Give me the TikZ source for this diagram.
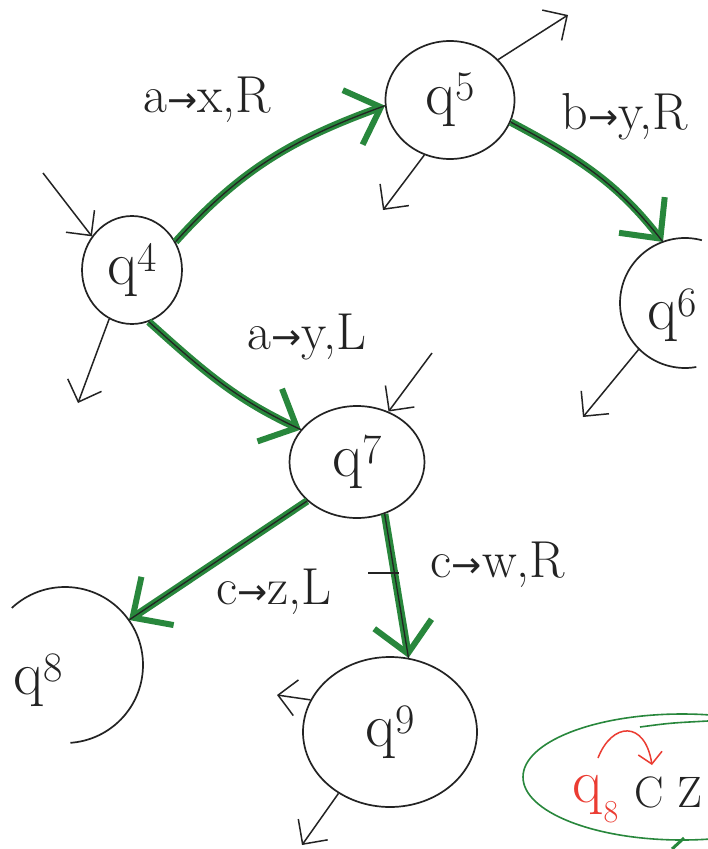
\documentclass[tikz,border=0pt]{standalone}
\usepackage{fontspec}
\newfontfamily\arrowfont{DejaVu Sans}
\usetikzlibrary{arrows.meta,shapes.geometric}
\definecolor{pen}{RGB}{35,35,35}
\definecolor{hl}{RGB}{40,135,60}
\definecolor{redpen}{RGB}{235,60,50}
\newcommand{\stname}[1]{q\raisebox{0.22em}{\fontsize{42}{44}\selectfont #1}}
\newcommand{\tr}{{\arrowfont\fontsize{36}{36}\selectfont →}}
\begin{document}
\begin{tikzpicture}[x=1pt,y=-1pt,
 state/.style={ellipse,draw=pen,line width=1.7pt,inner sep=0pt,text=pen,font=\fontsize{62}{64}\selectfont},
 stlab/.style={inner sep=0pt,text=pen,font=\fontsize{62}{64}\selectfont},
 lab/.style={font=\fontsize{52}{56}\selectfont,text=pen,inner sep=0pt},
 gedge/.style={draw=hl,line width=7.5pt,-{Straight Barb[length=30pt,width=58pt,line width=6pt]},postaction={draw=pen,line width=1.3pt,-}},
 tarrow/.style={draw=pen,line width=1.5pt,-{Straight Barb[length=18pt,width=36pt,line width=1.5pt]}},
 outline/.style={draw=pen,line width=1.7pt},
]
\path[use as bounding box, fill=white] (0,0) rectangle (708,849);

% states
\node[state,minimum width=100pt,minimum height=108pt] (q4) at (132,270) {\stname{4}};
\node[state,minimum width=129pt,minimum height=118pt] (q5) at (450,100) {\stname{5}};
\node[state,minimum width=135pt,minimum height=112pt] (q7) at (357,462) {\stname{7}};
\node[state,minimum width=174pt,minimum height=150pt] (q9) at (390,732) {\stname{9}};

% partial states q6 and q8
\coordinate (q6c) at (685,303);
\draw[outline] (q6c) ++(-75:65) arc[start angle=-75,end angle=-280,radius=65];
\node[stlab] (q6) at (672,315) {\stname{6}};
\coordinate (q6in) at (663,242);
\coordinate (q6out) at (639,349);

\coordinate (q8c) at (65,665);
\draw[outline] (q8c) ++(-133:78) arc[start angle=-133,end angle=86,radius=78];
\node[stlab] (q8) at (38,680) {\stname{8}};
\coordinate (q8in) at (129,620);

% green transitions
\draw[gedge] (q4.33) to[out=48,in=200] (q5.185);
\draw[gedge] (q5.-20) to[out=-28,in=128] (q6in);
\draw[gedge] (q4.-72) to[out=-42,in=155] (q7.150);
\draw[gedge] (q7.218) -- (q8in);
\draw[gedge] (q7.-62) -- (q9.76);

% labels
\node[lab] (l45) at (207,100) {a\tr x,R};
\node[lab] (l56) at (625,117) {b\tr y,R};
\node[lab] (l47) at (307,337) {a\tr y,L};
\node[lab] (l78) at (274,592) {c\tr z,L};
\node[lab] (l79) at (498,565) {c\tr w,R};
\coordinate (tk1) at (368,573);
\coordinate (tk2) at (399,573);
\draw[pen,line width=1.5pt] (tk1) -- (tk2);

% thin arrows
\coordinate (i4) at (43,173);
\draw[tarrow] (i4) -- (q4.140);
\coordinate (o4) at (78,403);
\draw[tarrow] (q4.-115) -- (o4);
\coordinate (o5a) at (568,15);
\draw[tarrow] (q5.40) -- (o5a);
\coordinate (o5b) at (383,210);
\draw[tarrow] (q5.-115) -- (o5b);
\coordinate (i7) at (432,353);
\draw[tarrow] (i7) -- (q7.58);
\coordinate (o6) at (583,417);
\draw[tarrow] (q6out) -- (o6);
\coordinate (o9a) at (277,695);
\draw[tarrow] (q9.158) -- (o9a);
\coordinate (o9b) at (302,845);
\draw[tarrow] (q9.-130) -- (o9b);

% bottom-right fragment
\begin{scope}
\clip (0,0) rectangle (708,849);
\draw[hl,line width=1.6pt] (682,777) ellipse [x radius=159, y radius=63];
\coordinate (gs1) at (640,727);
\coordinate (gs2) at (708,721);
\draw[hl,line width=1.6pt] (gs1) .. controls (670,723) .. (gs2);
\coordinate (gb1) at (672,849);
\coordinate (gb2) at (684,838);
\draw[hl,line width=3pt] (gb1) -- (gb2);
\end{scope}
\node[inner sep=0pt,text=redpen,font=\fontsize{62}{64}\selectfont] (rq) at (588,795) {q};
\node[inner sep=0pt,text=redpen,font=\fontsize{32}{34}\selectfont] (r8) at (611,812) {8};
\coordinate (ra1) at (598,758);
\coordinate (ra2) at (652,765);
\draw[redpen,line width=1.5pt,-{Straight Barb[length=11pt,width=24pt,line width=1.5pt]}] (ra1) .. controls (612,722) and (645,720) .. (ra2);
\node[lab,anchor=west,font=\fontsize{44}{46}\selectfont] (cz) at (634,792) {C\hspace{14pt}Z};
\end{tikzpicture}
\end{document}
